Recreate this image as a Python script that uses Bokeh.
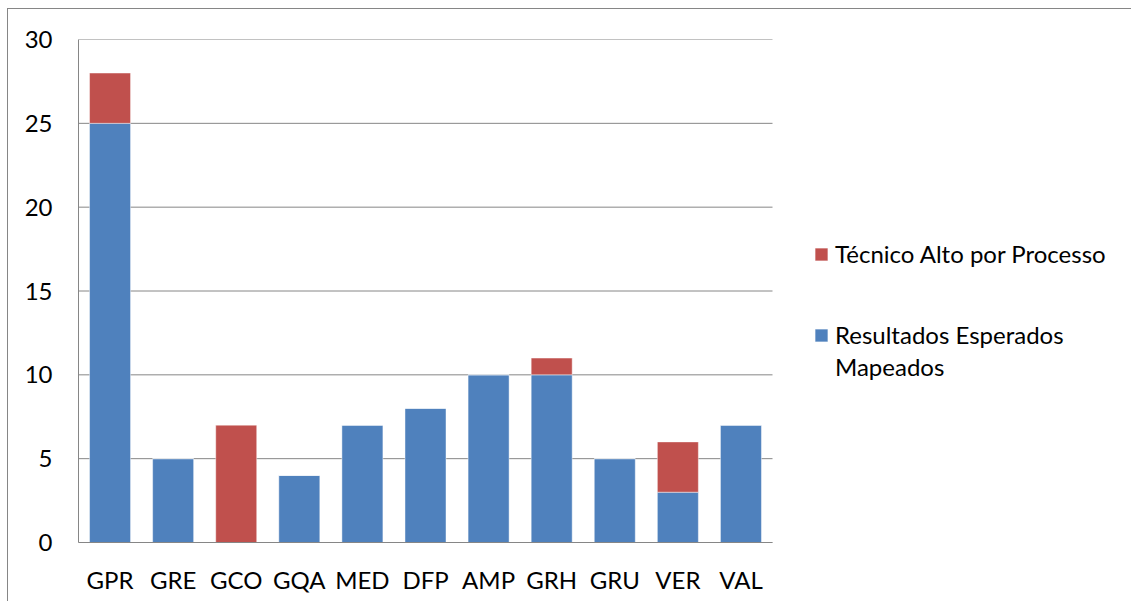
from bokeh.plotting import figure
from bokeh.models import Legend, LegendItem, Range1d
from bokeh.embed import file_html
from bokeh.resources import INLINE

# Process areas and the two stacked series
processos = ["GPR", "GRE", "GCO", "GQA", "MED", "DFP", "AMP", "GRH", "GRU", "VER", "VAL"]
resultados_mapeados = [25, 5, 0, 4, 7, 8, 10, 10, 5, 3, 7]
tecnico_alto = [3, 0, 7, 0, 0, 0, 0, 1, 0, 3, 0]
y_ticks = [0, 5, 10, 15, 20, 25, 30]

AZUL = "#4F81BD"
VERMELHO = "#C0504D"
CINZA = "#868686"
FONTE = "Lato"
TAM = "24px"

pos = list(range(len(processos)))
data = dict(x=pos, res=resultados_mapeados, tec=tecnico_alto)

# the frame runs to the right edge so the legend can sit beside the bars
PX_POR_CAT = 694 / len(processos)
FRAME_W = 1124 - 70
x_ini = -0.5
x_fim = x_ini + FRAME_W / PX_POR_CAT

p = figure(
    x_range=Range1d(x_ini, x_fim),
    y_range=Range1d(0, 30),
    width=1124, height=593,
    min_border_left=70, min_border_right=0,
    min_border_top=30, min_border_bottom=60,
    output_backend="svg", toolbar_location=None,
)
p.margin = (8, 0, 0, 7)
p.styles = {"border-left": f"1px solid {CINZA}", "border-top": f"1px solid {CINZA}"}
p.outline_line_color = None
p.xgrid.grid_line_color = None
p.ygrid.grid_line_color = None

# horizontal gridlines limited to the category span, drawn under the bars
p.segment(x0=-0.5, x1=len(processos) - 0.5, y0=y_ticks, y1=y_ticks,
          line_color=CINZA, line_width=1)

r = p.vbar_stack(["res", "tec"], x="x", width=0.65, source=data,
                 color=[AZUL, VERMELHO], line_color="white", line_alpha=0.45, line_width=1)

# empty, invisible renderer used as spacer glyph for the second legend line
spacer = p.scatter(x=[], y=[], marker="square", fill_alpha=0, line_alpha=0)

# axes
p.yaxis.ticker = y_ticks
p.yaxis.major_tick_line_color = None
p.yaxis.major_tick_out = 0
p.yaxis.minor_tick_line_color = None
p.yaxis.axis_line_color = CINZA
p.yaxis.major_label_standoff = 26
p.yaxis.major_label_text_font = FONTE
p.yaxis.major_label_text_font_size = TAM
p.yaxis.major_label_text_color = "black"

p.xaxis.ticker = pos
p.xaxis.major_label_overrides = {i: n for i, n in enumerate(processos)}
p.xaxis.bounds = (-0.5, len(processos) - 0.5)
p.xaxis.major_tick_line_color = None
p.xaxis.major_tick_out = 0
p.xaxis.minor_tick_line_color = None
p.xaxis.axis_line_color = CINZA
p.xaxis.major_label_standoff = 22
p.xaxis.major_label_text_font = FONTE
p.xaxis.major_label_text_font_size = TAM
p.xaxis.major_label_text_color = "black"


def legenda(label, renderer, loc):
    return Legend(
        items=[LegendItem(label=label, renderers=[renderer])],
        location=loc,
        border_line_color=None,
        background_fill_alpha=0,
        padding=0, margin=0, spacing=0,
        glyph_width=16, glyph_height=16,
        label_standoff=6,
        label_text_font=FONTE,
        label_text_font_size=TAM,
        label_text_color="black",
    )


p.add_layout(legenda("Técnico Alto por Processo", r[1], (735, 274)))
p.add_layout(legenda("Resultados Esperados", r[0], (735, 193)))
p.add_layout(legenda("Mapeados", spacer, (735, 161)))

open("out.html", "w").write(file_html(p, INLINE))
